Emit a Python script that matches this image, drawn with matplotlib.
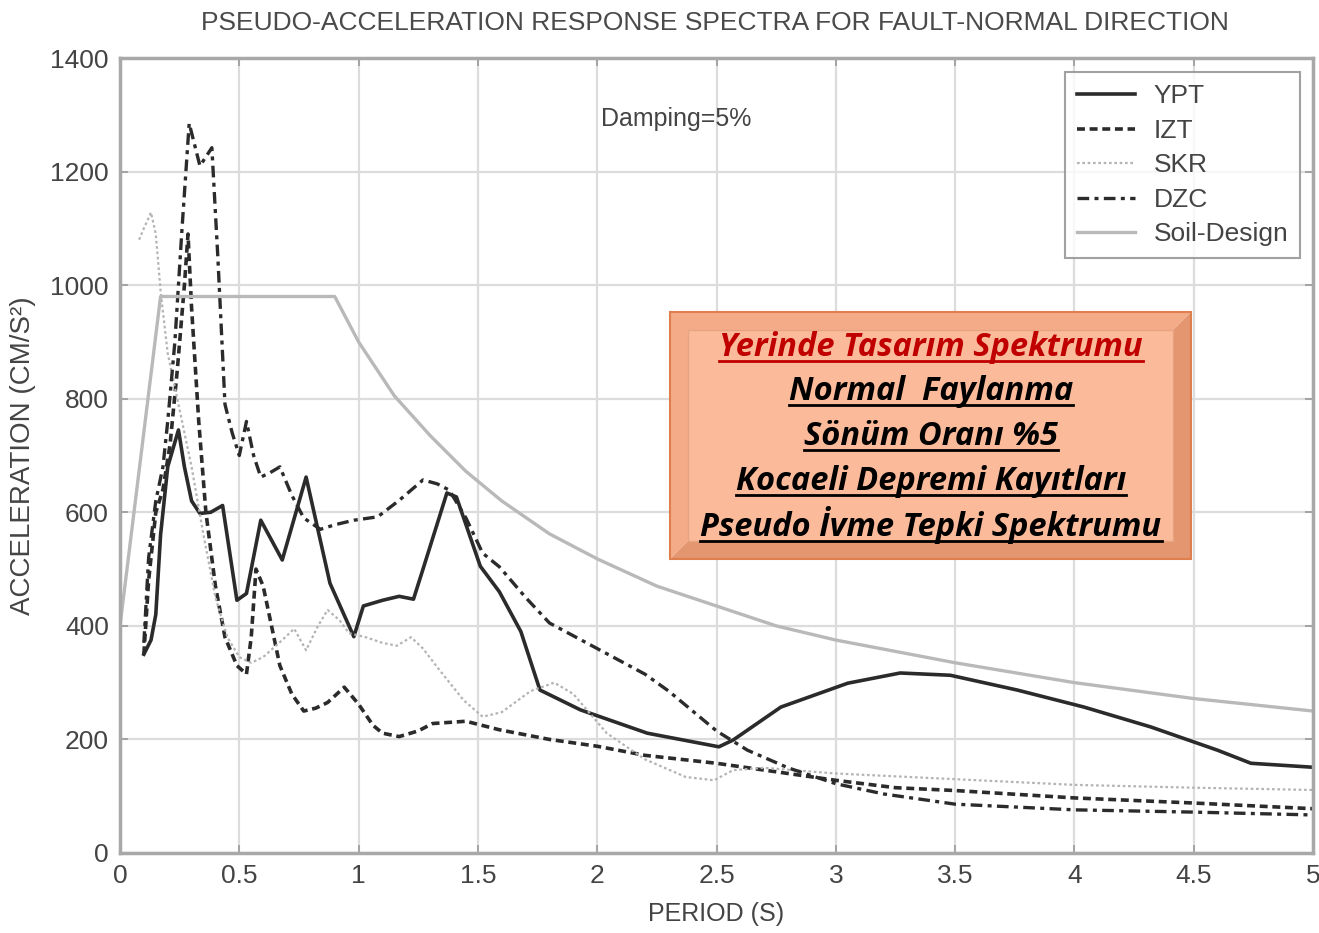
# -*- coding: utf-8 -*-
# Pseudo-acceleration response spectra (fault-normal), Kocaeli records
import matplotlib
matplotlib.use('Agg')
import matplotlib.pyplot as plt
from matplotlib.patches import Rectangle, Polygon
from matplotlib.lines import Line2D

# ---- data ----
ypt_t = [0.10, 0.13, 0.15, 0.17, 0.20, 0.245, 0.27, 0.30, 0.335, 0.38, 0.43, 0.49, 0.53, 0.59,
         0.68, 0.78, 0.88, 0.98, 1.02, 1.10, 1.17, 1.23, 1.27, 1.37, 1.41, 1.51, 1.59, 1.68,
         1.76, 1.93, 2.21, 2.51, 2.57, 2.77, 3.05, 3.27, 3.48, 3.76, 4.04, 4.32, 4.60, 4.74, 5.00]
ypt_a = [350, 375, 420, 560, 680, 745, 680, 620, 598, 600, 612, 445, 457, 586,
         516, 662, 475, 381, 435, 445, 452, 447, 500, 634, 627, 505, 460, 390,
         287, 252, 211, 187, 199, 257, 299, 317, 313, 287, 257, 222, 181, 158, 151]

izt_t = [0.10, 0.12, 0.15, 0.18, 0.21, 0.24, 0.27, 0.285, 0.30, 0.33, 0.36, 0.40, 0.44, 0.49,
         0.53, 0.55, 0.57, 0.60, 0.67, 0.72, 0.77, 0.82, 0.87, 0.94, 1.00, 1.06, 1.10, 1.17,
         1.25, 1.31, 1.45, 1.59, 1.80, 2.00, 2.20, 2.50, 2.80, 3.00, 3.25, 3.50, 4.00, 4.50, 5.00]
izt_a = [350, 480, 600, 640, 720, 850, 1000, 1090, 960, 760, 600, 470, 380, 330,
         315, 380, 500, 470, 330, 280, 250, 255, 265, 292, 262, 225, 211, 205,
         215, 228, 232, 217, 200, 188, 172, 158, 140, 128, 115, 110, 97, 88, 78]

skr_t = [0.08, 0.10, 0.13, 0.15, 0.17, 0.20, 0.25, 0.30, 0.35, 0.40, 0.45, 0.50, 0.55, 0.60,
         0.68, 0.73, 0.78, 0.83, 0.87, 0.92, 0.96, 1.03, 1.10, 1.16, 1.22, 1.27, 1.33, 1.44,
         1.52, 1.60, 1.72, 1.82, 1.90, 2.04, 2.20, 2.37, 2.49, 2.57, 2.70, 3.00, 3.50, 4.00,
         4.50, 5.00]
skr_a = [1080, 1100, 1128, 1090, 990, 880, 780, 680, 560, 450, 380, 345, 335, 345,
         375, 395, 357, 400, 428, 410, 387, 380, 370, 365, 380, 360, 327, 269,
         240, 248, 285, 300, 280, 211, 165, 134, 128, 146, 150, 140, 130, 120,
         115, 111]

dzc_t = [0.10, 0.12, 0.15, 0.18, 0.20, 0.23, 0.26, 0.29, 0.335, 0.385, 0.41, 0.44, 0.47, 0.50,
         0.53, 0.56, 0.59, 0.63, 0.67, 0.72, 0.77, 0.84, 0.90, 0.98, 1.08, 1.17, 1.27, 1.33,
         1.38, 1.45, 1.52, 1.59, 1.70, 1.80, 2.00, 2.20, 2.30, 2.40, 2.50, 2.63, 2.80, 3.00,
         3.20, 3.50, 4.00, 4.50, 5.00]
dzc_a = [370, 520, 620, 680, 760, 900, 1100, 1285, 1210, 1242, 1050, 790, 740, 700,
         760, 700, 662, 670, 680, 630, 590, 570, 578, 586, 592, 621, 657, 650,
         639, 590, 528, 504, 450, 405, 360, 315, 285, 250, 215, 181, 150, 122,
         104, 86, 76, 72, 67]

soil_t = [0.0, 0.17, 0.90, 1.00, 1.15, 1.30, 1.45, 1.60, 1.80, 2.00, 2.25, 2.50, 2.75,
          3.00, 3.50, 4.00, 4.50, 5.00]
soil_a = [400, 980, 980, 900, 805, 735, 672, 620, 562, 518, 470, 435, 400,
          375, 335, 300, 272, 250]

legend_names = ['YPT', 'IZT', 'SKR', 'DZC', 'Soil-Design']
box_lines = ['Yerinde Tasarım Spektrumu', 'Normal  Faylanma', 'Sönüm Oranı %5',
             'Kocaeli Depremi Kayıtları', 'Pseudo İvme Tepki Spektrumu']

# ---- figure ----
W, H = 1319, 933
fig = plt.figure(figsize=(W / 100, H / 100), dpi=100)
ax = fig.add_axes([120 / W, 1 - 853 / H, (1313 - 120) / W, (853 - 58) / H])

dark = '#2b2b2b'
ax.plot(ypt_t, ypt_a, color=dark, lw=2.6, label=legend_names[0])
ax.plot(izt_t, izt_a, color=dark, lw=2.6, ls=(0, (2.2, 1.3)), label=legend_names[1])
ax.plot(skr_t, skr_a, color='#b4b4b4', lw=1.6, ls=(0, (1.2, 1.2)), label=legend_names[2])
ax.plot(dzc_t, dzc_a, color=dark, lw=2.4, ls=(0, (3.5, 1.6, 1.2, 1.6)), label=legend_names[3])
ax.plot(soil_t, soil_a, color='#b9b9b9', lw=2.4, label=legend_names[4])

ax.set_xlim(0, 5)
ax.set_ylim(0, 1400)
ax.set_xticks([0, 0.5, 1, 1.5, 2, 2.5, 3, 3.5, 4, 4.5, 5])
ax.set_xticklabels(['0', '0.5', '1', '1.5', '2', '2.5', '3', '3.5', '4', '4.5', '5'])
ax.set_yticks(range(0, 1401, 200))
ax.grid(True, color='#dcdcdc', lw=1.6)
ax.set_axisbelow(True)
for s in ax.spines.values():
    s.set_color('#a8a8a8')
    s.set_linewidth(2.5)

fnt = ['Liberation Sans', 'DejaVu Sans']
txt_col = '#444444'
ax.tick_params(direction='in', top=True, right=True, length=6, width=1.2, color='#9a9a9a',
               labelsize=19, labelcolor=txt_col, pad=8)
for lab in ax.get_xticklabels() + ax.get_yticklabels():
    lab.set_family(fnt)

ax.set_xlabel('PERIOD (S)', family=fnt, fontsize=18, color=txt_col, labelpad=10)
ax.set_ylabel('ACCELERATION (CM/S²)', family=fnt, fontsize=20, color=txt_col, labelpad=10)
fig.text(0.5 * (195 + 1235) / W, 1 - 23 / H,
         'PSEUDO-ACCELERATION RESPONSE SPECTRA FOR FAULT-NORMAL DIRECTION',
         family=fnt, fontsize=19, color='#4a4a4a', ha='center', va='center')
ax.text(2.33, 1293, 'Damping=5%', family=fnt, fontsize=18, color=txt_col,
        ha='center', va='center')

leg = ax.legend(loc='upper right', bbox_to_anchor=(0.9895, 0.982), borderaxespad=0,
                frameon=True, fancybox=False,
                prop={'family': fnt, 'size': 19}, handlelength=2.2, labelspacing=0.4,
                borderpad=0.45, handletextpad=0.7)
leg.get_frame().set_edgecolor('#8a8a8a')
leg.get_frame().set_linewidth(1.5)
for t in leg.get_texts():
    t.set_color(txt_col)

# ---- bevelled note box ----
def fx(px):
    return px / W

def fy(py):
    return 1 - py / H

x0, x1, y0, y1, b = 670, 1191, 312, 559, 18
fig.patches.append(Polygon([(fx(x0), fy(y0)), (fx(x1), fy(y0)), (fx(x1 - b), fy(y0 + b)),
                            (fx(x0 + b), fy(y0 + b)), (fx(x0 + b), fy(y1 - b)), (fx(x0), fy(y1))],
                           closed=True, transform=fig.transFigure, facecolor='#f4ab88',
                           edgecolor='none', zorder=5))
fig.patches.append(Polygon([(fx(x1), fy(y0)), (fx(x1), fy(y1)), (fx(x0), fy(y1)),
                            (fx(x0 + b), fy(y1 - b)), (fx(x1 - b), fy(y1 - b)), (fx(x1 - b), fy(y0 + b))],
                           closed=True, transform=fig.transFigure, facecolor='#e3966f',
                           edgecolor='none', zorder=5))
fig.patches.append(Rectangle((fx(x0), fy(y1)), fx(x1) - fx(x0), fy(y0) - fy(y1),
                             transform=fig.transFigure, facecolor='none', edgecolor='#e07f4e',
                             lw=1.5, zorder=6))
fig.patches.append(Rectangle((fx(x0 + b), fy(y1 - b)), fx(x1 - b) - fx(x0 + b),
                             fy(y0 + b) - fy(y1 - b), transform=fig.transFigure,
                             facecolor='#fbbb9b', edgecolor='#e6a483', lw=1.0, zorder=6))

line_y = [347, 391, 436, 481, 525]
box_texts = []
for i, s in enumerate(box_lines):
    col = '#c00000' if i == 0 else 'black'
    t = fig.text(fx(931), fy(line_y[i]), s, ha='center', va='center', fontsize=23.5,
                 family=['Open Sans', 'DejaVu Sans'], weight='bold', style='italic',
                 color=col, zorder=7)
    box_texts.append((t, col))

# underline each line of the box
fig.canvas.draw()
r = fig.canvas.get_renderer()
for t, col in box_texts:
    bb = t.get_window_extent(renderer=r)
    yy = (bb.y0 + 3) / H
    fig.lines.append(Line2D([bb.x0 / W, bb.x1 / W], [yy, yy], transform=fig.transFigure,
                            color=col, lw=2.0, zorder=7))

fig.savefig('out.png', dpi=100)
